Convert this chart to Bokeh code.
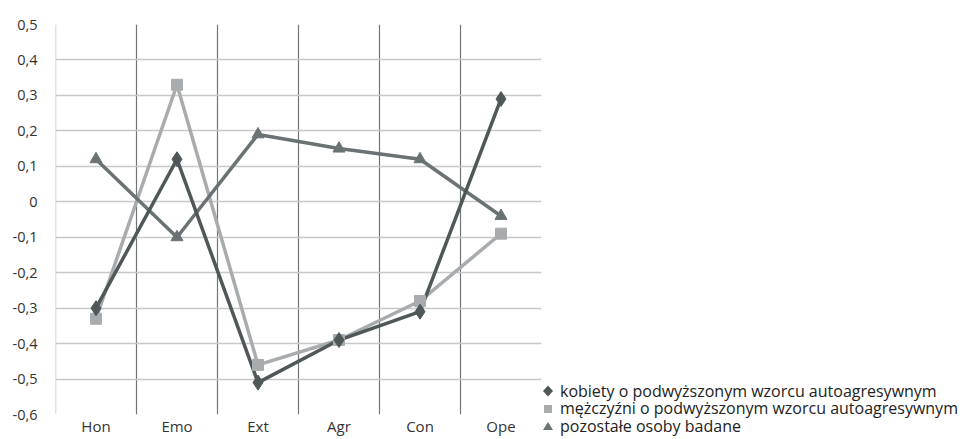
from bokeh.plotting import figure
from bokeh.models import (FixedTicker, CustomJSTickFormatter, Range1d, Div)
from bokeh.layouts import row
from bokeh.embed import file_html
from bokeh.resources import INLINE

categories = ["Hon", "Emo", "Ext", "Agr", "Con", "Ope"]
kobiety = [-0.30, 0.12, -0.51, -0.39, -0.31, 0.29]
mezczyzni = [-0.33, 0.33, -0.46, -0.39, -0.28, -0.09]
pozostale = [0.12, -0.10, 0.19, 0.15, 0.12, -0.04]
y_ticks = [0.5, 0.4, 0.3, 0.2, 0.1, 0.0, -0.1, -0.2, -0.3, -0.4, -0.5, -0.6]
series_names = ["kobiety o podwyższonym wzorcu autoagresywnym",
                "mężczyźni o podwyższonym wzorcu autoagresywnym",
                "pozostałe osoby badane"]

xs = [i + 0.5 for i in range(len(categories))]
FONT = "Open Sans"
H = 439

p = figure(width=542, height=H, output_backend="svg", toolbar_location=None,
           x_range=Range1d(0, len(categories)), y_range=Range1d(-0.6, 0.5),
           min_border_left=55, min_border_right=1, min_border_top=24, min_border_bottom=25)
p.outline_line_color = None
p.background_fill_color = "white"

p.xaxis.ticker = FixedTicker(ticks=xs)
p.xaxis.major_label_overrides = {x: c for x, c in zip(xs, categories)}
p.yaxis.ticker = FixedTicker(ticks=y_ticks)
p.yaxis.formatter = CustomJSTickFormatter(code="""
const s = tick.toFixed(1);
if (s == "0.0" || s == "-0.0") return "0";
return s.replace(".", ",");
""")
for ax in (p.xaxis[0], p.yaxis[0]):
    ax.axis_line_color = None
    ax.major_tick_line_color = None
    ax.minor_tick_line_color = None
    ax.major_tick_out = 0
    ax.major_tick_in = 0
    ax.major_label_text_font = FONT
    ax.major_label_text_color = "#333333"
p.xaxis.major_label_text_font_size = "15px"
p.yaxis.major_label_text_font_size = "14.5px"
p.xaxis.major_label_standoff = 1
p.yaxis.major_label_standoff = 18

p.ygrid.ticker = FixedTicker(ticks=y_ticks)
p.ygrid.grid_line_color = "#c8c8c8"
p.ygrid.grid_line_width = 1.5
p.xgrid.ticker = FixedTicker(ticks=list(range(1, len(categories) + 1)))
p.xgrid.grid_line_color = "#6f7577"
p.xgrid.grid_line_width = 1.2
p.segment(x0=[0], y0=[-0.6], x1=[0], y1=[0.5], line_color="#c8c8c8", line_width=1.5)

c_k = "#4f5759"
c_m = "#a9acae"
c_p = "#6a7274"

p.line(xs, mezczyzni, line_color=c_m, line_width=3.5)
p.line(xs, pozostale, line_color=c_p, line_width=3.5)
p.line(xs, kobiety, line_color=c_k, line_width=3.5)
p.scatter(xs, mezczyzni, marker="square", size=11, fill_color=c_m, line_color=c_m)
p.scatter(xs, pozostale, marker="triangle", size=12, fill_color=c_p, line_color=c_p)
p.scatter(xs, kobiety, marker="diamond", size=15, fill_color=c_k, line_color=c_k)

# legend as an HTML block to the right of the chart
marker_svgs = [
    f'<svg width="12" height="12" style="vertical-align:middle"><polygon points="6,0.5 11,6 6,11.5 1,6" fill="{c_k}"/></svg>',
    f'<svg width="12" height="12" style="vertical-align:middle"><rect x="2" y="2" width="8" height="8" fill="{c_m}"/></svg>',
    f'<svg width="12" height="12" style="vertical-align:middle"><polygon points="6,2 11,10 1,10" fill="{c_p}"/></svg>',
]
row_centers = [390, 407.5, 425]
rows_html = "".join(
    f'<div style="position:absolute; left:0px; top:{yc - 8.5}px; height:17px; line-height:17px; white-space:nowrap;">'
    f'{m}<span style="margin-left:6px; vertical-align:middle; line-height:17px;">{name}</span></div>'
    for m, name, yc in zip(marker_svgs, series_names, row_centers)
)
legend_div = Div(text=f'<div style="position:relative; width:420px; height:{H}px; font-family:\'Open Sans\'; '
                      f'font-size:16px; color:#222222;">{rows_html}</div>',
                 width=420, height=H, margin=0)

layout = row(p, legend_div, spacing=0)
open("out.html", "w").write(file_html(layout, INLINE))
